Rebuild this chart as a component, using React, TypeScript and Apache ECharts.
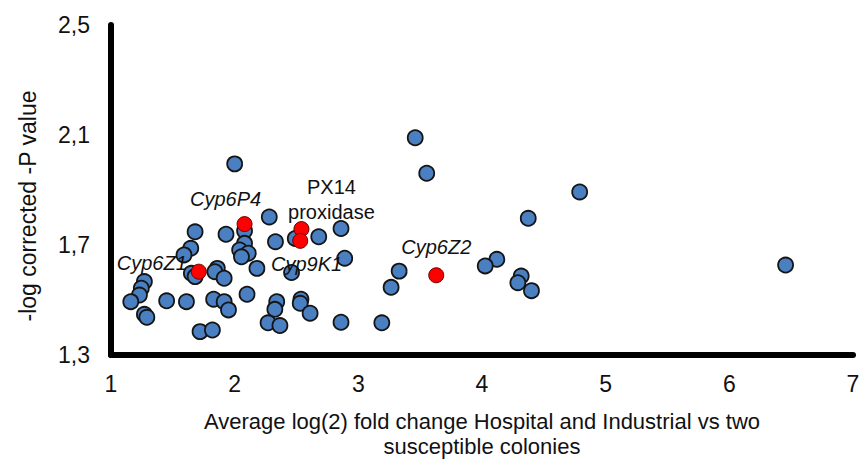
import React, { useEffect, useRef } from "react";
import * as echarts from "echarts";

// Blue points (other genes)
const blueX = [2.00, 2.28, 1.68, 1.93, 2.08, 2.08, 2.04, 2.11, 2.055, 2.33, 2.49, 2.68, 2.86, 2.89, 1.645, 1.59, 1.65, 1.68, 1.86, 1.84, 1.915, 2.18, 2.46, 1.27, 1.245, 1.23, 1.16, 1.45, 1.61, 1.83, 1.915, 1.95, 2.10, 2.34, 2.325, 2.536, 2.53, 2.61, 1.27, 1.29, 1.72, 1.82, 2.27, 2.366, 2.86, 3.19, 3.265, 3.33, 3.46, 3.553, 4.79, 4.374, 4.12, 4.026, 4.317, 4.29, 4.40, 6.455];
const blueY = [1.995, 1.802, 1.748, 1.739, 1.752, 1.706, 1.682, 1.67, 1.657, 1.712, 1.724, 1.73, 1.76, 1.652, 1.688, 1.664, 1.597, 1.585, 1.615, 1.603, 1.579, 1.615, 1.60, 1.567, 1.543, 1.518, 1.494, 1.497, 1.494, 1.503, 1.494, 1.464, 1.521, 1.494, 1.466, 1.503, 1.488, 1.452, 1.448, 1.437, 1.385, 1.391, 1.417, 1.407, 1.419, 1.417, 1.546, 1.605, 2.09, 1.961, 1.893, 1.797, 1.648, 1.624, 1.587, 1.563, 1.534, 1.627];

// Red highlighted genes
const redX = [2.08, 2.54, 2.53, 1.71, 3.63];
const redY = [1.776, 1.758, 1.715, 1.603, 1.59];
const redNames = ["Cyp6P4", "PX14\nproxidase", "", "Cyp6Z1", "Cyp6Z2"];
const redLabelOffsets = [[-19, -25], [30, -30], [0, 0], [-47, -9], [0, -28]];
const redItalic = [true, false, false, true, true];

// Label on a blue point
const blueLabelIndex = 22;
const blueLabelName = "Cyp9K1";
const blueLabelOffset = [15, -9];

const xTicks = [1, 2, 3, 4, 5, 6, 7];
const yTicks = [1.3, 1.7, 2.1, 2.5];

const xTitle = "Average log(2) fold change Hospital and Industrial vs two\nsusceptible colonies";
const yTitle = "-log corrected -P value";

const FONT = "'Liberation Sans', Arial, sans-serif";

export default function App() {
  const ref = useRef<HTMLDivElement>(null);
  useEffect(() => {
    if (!ref.current) return;
    const chart = echarts.init(ref.current, null, { renderer: "svg" });
    const blueData = blueX.map((x, i) => {
      const item: any = { value: [x, blueY[i]] };
      if (i === blueLabelIndex) {
        item.label = {
          show: true,
          formatter: blueLabelName,
          position: "inside",
          offset: blueLabelOffset,
          fontSize: 20,
          fontStyle: "italic",
          color: "#111",
          fontFamily: FONT,
        };
      }
      return item;
    });
    const redData = redX.map((x, i) => ({
      value: [x, redY[i]],
      label: {
        show: redNames[i] !== "",
        formatter: redNames[i],
        position: "inside",
        offset: redLabelOffsets[i],
        fontSize: 20,
        lineHeight: 25,
        fontStyle: redItalic[i] ? "italic" : "normal",
        color: "#111",
        fontFamily: FONT,
        align: "center",
      },
    }));
    chart.setOption({
      animation: false,
      backgroundColor: "#fff",
      textStyle: { fontFamily: FONT },
      grid: { left: 111, right: 7, top: 25, bottom: 105, containLabel: false, outerBoundsMode: "none" },
      xAxis: {
        type: "value",
        min: xTicks[0],
        max: xTicks[xTicks.length - 1],
        interval: 1,
        axisLine: { show: true, lineStyle: { color: "#000", width: 6 } },
        axisTick: { show: false },
        splitLine: { show: false },
        axisLabel: { fontSize: 23, color: "#111", margin: 17, fontFamily: FONT },
        name: xTitle,
        nameLocation: "middle",
        nameGap: 54,
        nameTextStyle: { fontSize: 22, lineHeight: 25, color: "#111", fontFamily: FONT },
      },
      yAxis: {
        type: "value",
        min: yTicks[0],
        max: yTicks[yTicks.length - 1],
        axisLine: { show: true, lineStyle: { color: "#000", width: 6 } },
        axisTick: { show: false },
        splitLine: { show: false },
        axisLabel: {
          customValues: yTicks,
          fontSize: 23,
          color: "#111",
          margin: 21,
          fontFamily: FONT,
          formatter: (v: number) => v.toFixed(1).replace(".", ","),
        },
      },
      graphic: [
        {
          type: "text",
          x: 28,
          y: 206,
          rotation: Math.PI / 2,
          style: {
            text: yTitle,
            fontSize: 23,
            fill: "#111",
            fontFamily: FONT,
            align: "center",
            verticalAlign: "middle",
          },
        },
      ],
      series: [
        {
          type: "scatter",
          data: blueData,
          symbol: "circle",
          symbolSize: 15,
          itemStyle: { color: "#4a7fc1", borderColor: "#151515", borderWidth: 1.8, opacity: 1 },
          z: 2,
        },
        {
          type: "scatter",
          data: redData,
          symbol: "circle",
          symbolSize: 15,
          itemStyle: { color: "#ff0000", borderColor: "#6b0000", borderWidth: 1, opacity: 1 },
          z: 3,
        },
      ],
    });
    return () => chart.dispose();
  }, []);
  return (
    <div
      ref={ref}
      style={{ position: "fixed", left: 0, top: 0, width: 860, height: 460, background: "#fff" }}
    />
  );
}
